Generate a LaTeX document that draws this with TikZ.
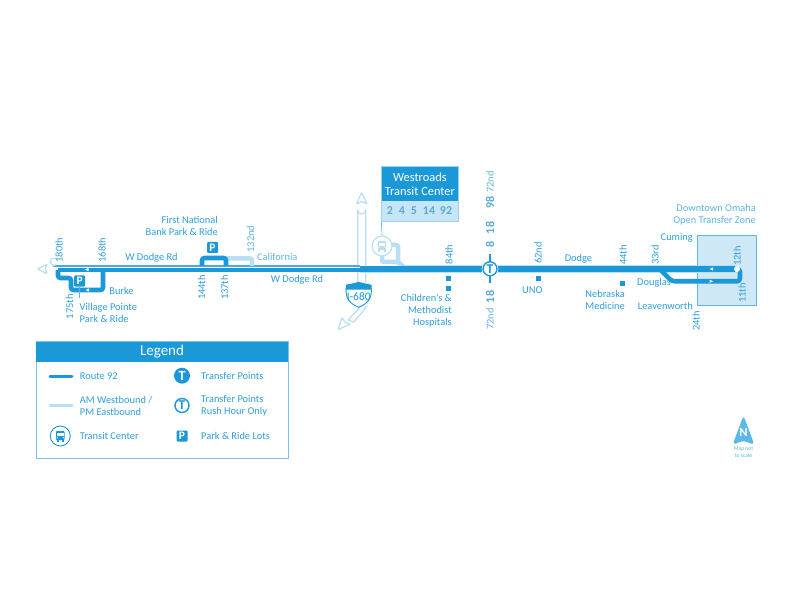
\documentclass[tikz,border=0pt]{standalone}
\usepackage{fontspec}
\setmainfont{Carlito}
\definecolor{rt}{HTML}{1A98D8}
\definecolor{txt}{HTML}{2F9FDB}
\definecolor{mid}{HTML}{5DB5E2}
\definecolor{pale}{HTML}{B8DFF3}
\definecolor{zone}{HTML}{CFE8F6}
\definecolor{num}{HTML}{5AA9D8}
\definecolor{nrth}{HTML}{5BB8E8}
\newcommand{\busglyph}[3]{%
  \fill[#3,rounded corners=0.8pt] (#1-4.2,#2-5) rectangle (#1+4.2,#2+4);
  \fill[#3] (#1-3.6,#2+3.5) rectangle (#1-1.8,#2+5.8);
  \fill[#3] (#1+1.8,#2+3.5) rectangle (#1+3.6,#2+5.8);
  \fill[white] (#1-3.2,#2-3) rectangle (#1+3.2,#2+0.3);
  \fill[white] (#1-3,#2+1.6) circle (0.7);
  \fill[white] (#1+3,#2+1.6) circle (0.7);
}
\tikzset{
  x=1pt,y=-1pt,
  lab/.style={text=txt,inner sep=0pt,font=\fontsize{10.4}{12}\selectfont,align=center},
  labl/.style={lab,anchor=west,align=left},
  labr/.style={lab,anchor=east,align=right},
  vert/.style={lab,rotate=90},
  soft/.style={text=mid},
  route/.style={draw=rt,line width=4.6pt,rounded corners=2pt},
  paleroute/.style={draw=pale,line width=4.5pt,rounded corners=2pt},
  thinroad/.style={draw=pale,line width=1.2pt},
  routenum/.style={text=num,inner sep=0pt,font=\fontsize{12}{12}\bfseries\selectfont},
  pbox/.style={fill=rt,text=white,rounded corners=1pt,minimum size=11pt,inner sep=0pt,font=\fontsize{11.5}{11}\bfseries\selectfont},
  stop/.style={fill=rt,minimum size=5.5pt,inner sep=0pt},
  tfill/.style={circle,fill=rt,text=white,minimum size=16pt,inner sep=0pt,font=\fontsize{14}{12}\bfseries\selectfont},
  tring/.style={circle,fill=white,draw=rt,line width=1.4pt,text=rt,minimum size=14pt,inner sep=0pt,font=\fontsize{13.5}{12}\bfseries\selectfont},
}
\begin{document}
\begin{tikzpicture}
\useasboundingbox (0,0) rectangle (792,612);
\fill[white] (0,0) rectangle (792,612);
% downtown zone
\node[draw=mid,fill=zone,line width=0.7pt,minimum width=58.5pt,minimum height=70pt,inner sep=0pt] (zonebox) at (726.7,270.7) {};
% I-680 road
\draw[thinroad,fill=white,line join=round] (357.7,282) -- (357.7,210) arc[start angle=180,end angle=0,radius=4] -- (365.7,282);
\draw[thinroad,fill=white,line join=round,rounded corners=0.6pt] (361.7,192.5) -- (367,204) -- (361.7,201.5) -- (356.4,204) -- cycle;
% west road edges
\draw[line width=1.1pt,draw=pale] (360,272.4) -- (737,272.4);
\draw[line width=1.1pt,draw=pale] (405,265.6) -- (737,265.6);
\draw[line width=2.2pt,draw=mid!70!rt] (53,266.4) -- (360,266.4);
\draw[line width=3.6pt,draw=rt] (58,270) -- (360,270);
\draw[thinroad] (56,265) arc[start angle=60,end angle=300,radius=3.8];
\draw[thinroad,line join=round,rounded corners=0.6pt] (37.5,269) -- (47,264.3) -- (45,269) -- (47,273.7) -- cycle;
\fill[white] (358.3,264.5) rectangle (365.1,265);
% pale AM/PM routes
\draw[paleroute] (226,258.5) -- (252,258.5) -- (252,266);
\draw[paleroute] (382,250) -- (382,262) -- (398,262) -- (405,268);
\draw[paleroute] (386,245) -- (398,245) -- (398,262);
% bus connector & transit centre
\node[draw=pale,fill=white,line width=1.1pt,circle,minimum size=20pt,inner sep=0pt] (tc) at (382,246) {};
\busglyph{382}{246}{pale}
% main route
\draw[draw=rt,line width=5.4pt] (360,269) -- (735,269);
\draw[route,rounded corners=2.5pt] (58,270) -- (58,278) -- (71,278) -- (71,290) -- (103,290) -- (103,270);
\draw[route,rounded corners=2.5pt] (202,266) -- (202,258) -- (226,258) -- (226,266);
\draw[route,rounded corners=3pt] (659.5,269) -- (672,281.3) -- (740,281.3) -- (740,269) -- (735,269);
\fill[white] (737,269) circle (3);
% direction marks
\fill[white] (85,269.6) -- (88.5,268) -- (88.5,271.2) -- cycle;
\fill[white] (85.5,290) -- (89,288.4) -- (89,291.6) -- cycle;
\fill[white] (709.5,269) -- (713,267.4) -- (713,270.6) -- cycle;
\fill[white] (713,281.3) -- (709.5,279.7) -- (709.5,282.9) -- cycle;
% shield road
\draw[thinroad,fill=white,line join=round] (360,306) .. controls (358,312) and (352,314) .. (348.5,320) -- (354,322) .. controls (358,316) and (364,312) .. (366,306);
\draw[thinroad,fill=white,line join=round,rounded corners=0.6pt] (338,329.7) -- (342,317.5) -- (345,322.5) -- (350.5,324) -- cycle;
% shield
\fill[white,draw=rt,line width=0.9pt] (346.2,288) .. controls (345,298) and (350,304) .. (358.7,307.3) .. controls (367.5,304) and (372.4,298) .. (371.2,288) -- cycle;
\fill[rt] (346,289.5) -- (345.8,284.8) .. controls (350,283.8) and (355,283.2) .. (358.7,281.8) .. controls (362.5,283.2) and (367.5,283.8) .. (371.6,284.8) -- (371.4,289.5) -- cycle;
\node[text=rt,inner sep=0pt,font=\fontsize{11.5}{12}\selectfont] (i680) at (358.7,296.3) {I-680};
% Westroads box
\node[draw=pale!70!mid,fill=pale!80!white,line width=0.7pt,minimum width=76.3pt,minimum height=55pt,inner sep=0pt] (wbase) at (419.9,194.2) {};
\fill[rt] (381.7,166.7) rectangle (458,200.7);
\node[text=white,inner sep=0pt,font=\fontsize{12.4}{13.6}\selectfont,align=center] (wtitle) at (419.9,184) {Westroads\\Transit Center};
\node[routenum] (r2) at (390,211) {2};
\node[routenum] (r4) at (402,211) {4};
\node[routenum] (r5) at (414,211) {5};
\node[routenum] (r14) at (429,211) {14};
\node[routenum] (r92) at (446,211) {92};
\draw[draw=mid,line width=0.6pt] (wbase.south west) -- (tc.north);
% stem to Village Pointe
\node[pbox] (pv) at (79.7,281) {P};
\coordinate (pvend) at (79.7,298);
\draw[draw=mid,line width=0.6pt] (pv.south) -- (pvend);
\node[pbox] (pf) at (212.5,247.5) {P};
% 72nd stubs and T
\coordinate (stubn) at (490,254);
\coordinate (stubs) at (490,283);
\draw[white,line width=1.2pt] (490,268.8) circle (7.6);
\fill[white] (490,268.8) circle (8.2);
\node[tring] (tmain) at (490,268.8) {T};
\draw[rt,line width=2.4pt] (stubn) -- (490,261.3);
\draw[rt,line width=2.4pt] (490,276.3) -- (stubs);
% stops
\node[stop] (s84a) at (448.5,278.5) {};
\node[stop] (s84b) at (448.5,288.5) {};
\node[stop] (s62) at (538.3,278.5) {};
\node[stop] (s44) at (622.5,283.5) {};
% west labels
\node[vert] (l180) at (59,250) {180th};
\node[vert] (l168) at (102,250) {168th};
\node[lab] (wd1) at (151.5,258) {W Dodge Rd};
\node[lab] (burke) at (121.5,290.5) {Burke};
\node[vert] (l175) at (69.5,306.7) {175th};
\node[labl] (vp) at (79.5,312.5) {Village Pointe\\Park \& Ride};
\node[labr] (fn) at (218,225.5) {First National\\Bank Park \& Ride};
\node[vert] (l144) at (201.5,287.5) {144th};
\node[vert] (l137) at (224.5,287.5) {137th};
\node[vert,soft] (l132) at (250.5,239) {132nd};
\node[labl,soft] (cal) at (257,257) {California};
\node[lab] (wd2) at (297,280) {W Dodge Rd};
% middle labels
\node[vert] (l84) at (449,254.5) {84th};
\node[labr] (chm) at (452,311) {Children's \&\\Methodist\\Hospitals};
\node[vert,soft] (l72n) at (490,182) {72nd};
\node[routenum,rotate=90] (n98) at (490,202.5) {98};
\node[routenum,rotate=90] (n18a) at (490,228) {18};
\node[routenum,rotate=90] (n8) at (490,244.5) {8};
\node[routenum,rotate=90] (n18b) at (490,297) {18};
\node[vert,soft] (l72s) at (490,319) {72nd};
\node[vert] (l62) at (538,253) {62nd};
\node[lab] (uno) at (532.3,290) {UNO};
\node[lab] (dodge) at (578.5,259) {Dodge};
\node[vert] (l44) at (623,255) {44th};
\node[vert] (l33) at (655,255) {33rd};
\node[labr] (nm) at (625,300) {Nebraska\\Medicine};
\node[labl] (dg) at (637,282.5) {Douglas};
\node[labr] (cum) at (693,237.5) {Cuming};
\node[labr] (lv) at (693,305.5) {Leavenworth};
\node[vert] (l24) at (696,321) {24th};
\node[labr,soft] (dto) at (756,215) {Downtown Omaha\\Open Transfer Zone};
\node[vert] (l12) at (737,256) {12th};
\node[vert] (l11) at (742,293) {11th};
% legend
\node[draw=mid!80!white,fill=white,line width=1pt,minimum width=252pt,minimum height=116.5pt,inner sep=0pt] (legbox) at (162,399.8) {};
\fill[rt] (36,341.5) rectangle (288,361.7);
\node[text=white,inner sep=0pt,font=\fontsize{15}{16}\selectfont] (legt) at (162,351.3) {Legend};
\coordinate (la) at (50,376);
\coordinate (lb) at (72,376);
\draw[rt,line width=3pt,line cap=round] (la) -- (lb);
\coordinate (lc) at (50,405.7);
\coordinate (ld) at (72,405.7);
\draw[pale,line width=3pt,line cap=round] (lc) -- (ld);
\node[draw=rt,fill=white,line width=0.9pt,circle,minimum size=20pt,inner sep=0pt] (lbus) at (60.3,436) {};
\busglyph{60.3}{436}{rt}
\node[labl] (lt1) at (79.7,376) {Route 92};
\node[labl] (lt2) at (79.7,405.7) {AM Westbound /\\PM Eastbound};
\node[labl] (lt3) at (79.7,436) {Transit Center};
\node[tfill] (lT) at (182,375.7) {T};
\node[tring] (lTr) at (182,405.5) {T};
\node[pbox] (lP) at (182,436) {P};
\node[labl] (lt4) at (201,376) {Transfer Points};
\node[labl] (lt5) at (201,405.7) {Transfer Points\\Rush Hour Only};
\node[labl] (lt6) at (201,436) {Park \& Ride Lots};
% north
\fill[nrth,rounded corners=3.5pt] (743.5,415.5) -- (754.5,445) -- (743.5,440.5) -- (732.5,445) -- cycle;
\node[text=white,inner sep=0pt,font=\fontsize{12.5}{12}\bfseries\selectfont] (north) at (743.5,432) {N};
\node[text=mid,inner sep=0pt,align=center,font=\fontsize{5.6}{7.5}\selectfont] (mapnote) at (743.5,452.3) {Map not\\to scale};
\end{tikzpicture}
\end{document}
